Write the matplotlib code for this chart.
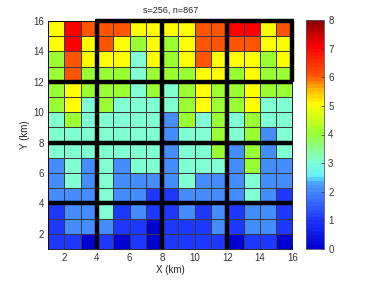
import numpy as np
import matplotlib
matplotlib.use("Agg")
import matplotlib.pyplot as plt
from matplotlib.colors import LinearSegmentedColormap, ListedColormap

plt.rcParams['font.family'] = ['Liberation Sans', 'DejaVu Sans']

# grid node coordinates (km)
x_nodes = np.arange(1, 17)
y_nodes = np.arange(1, 17)

# cell values, rows from bottom (y=1-2) to top (y=15-16)
row_01 = [1, 1, 0, 1, 0, 1, 0, 1, 1, 1, 1, 0, 1, 1, 0]
row_02 = [1, 2, 2, 2, 1, 1, 0, 1, 1, 1, 2, 1, 2, 2, 1]
row_03 = [1, 2, 2, 3, 1, 2, 1, 1, 2, 1, 2, 1, 2, 2, 1]
row_04 = [2, 2, 2, 3, 2, 2, 1, 1, 2, 2, 2, 2, 3, 2, 1]
row_05 = [2, 3, 2, 3, 2, 2, 2, 2, 3, 2, 2, 2, 3, 2, 2]
row_06 = [2, 3, 2, 3, 2, 3, 3, 2, 3, 3, 3, 2, 4, 2, 2]
row_07 = [3, 3, 3, 3, 3, 3, 3, 2, 3, 3, 4, 2, 4, 2, 3]
row_08 = [3, 3, 3, 3, 3, 3, 3, 2, 3, 3, 4, 3, 4, 2, 3]
row_09 = [3, 4, 3, 3, 3, 3, 3, 2, 4, 3, 4, 3, 4, 3, 3]
row_10 = [4, 5, 3, 4, 3, 3, 3, 3, 4, 5, 4, 4, 5, 3, 3]
row_11 = [4, 5, 4, 4, 4, 3, 4, 3, 4, 5, 4, 4, 5, 4, 4]
row_12 = [4, 6, 4, 4, 4, 3, 4, 4, 4, 5, 5, 4, 5, 4, 4]
row_13 = [4, 6, 5, 5, 5, 3, 5, 4, 5, 6, 5, 5, 5, 4, 5]
row_14 = [5, 7, 5, 6, 5, 4, 5, 4, 5, 6, 6, 6, 6, 5, 5]
row_15 = [5, 7, 6, 6, 6, 5, 5, 5, 5, 6, 6, 7, 7, 5, 6]

Z = np.array([row_01, row_02, row_03, row_04, row_05, row_06, row_07, row_08,
              row_09, row_10, row_11, row_12, row_13, row_14, row_15], dtype=float)

x_ticks = [2, 4, 6, 8, 10, 12, 14, 16]
y_ticks = [2, 4, 6, 8, 10, 12, 14, 16]
cb_ticks = [0, 1, 2, 3, 4, 5, 6, 7, 8]
title_text = "s=256, n=867"

# colormap resembling the reference
anchors = [
    (0.0, (0.00, 0.00, 0.82)),
    (1.0, (0.12, 0.22, 1.00)),
    (2.0, (0.27, 0.55, 1.00)),
    (2.3, (0.30, 0.66, 1.00)),
    (2.45, (0.40, 0.93, 1.00)),
    (3.0, (0.50, 1.00, 0.83)),
    (4.0, (0.60, 1.00, 0.20)),
    (5.0, (1.00, 1.00, 0.00)),
    (5.5, (1.00, 0.72, 0.00)),
    (6.0, (1.00, 0.33, 0.00)),
    (7.0, (1.00, 0.00, 0.00)),
    (8.0, (0.50, 0.00, 0.00)),
]
base = LinearSegmentedColormap.from_list("ref", [(v / 8.0, c) for v, c in anchors], N=1024)
cmap = ListedColormap(base(np.arange(64) / 64.0))

W, H = 374, 281
fig = plt.figure(figsize=(W / 100, H / 100), dpi=100)
ax = fig.add_axes([48 / W, 1 - 249 / H, (292.5 - 48) / W, (249 - 21) / H])
cax = fig.add_axes([306 / W, 1 - 249 / H, 18 / W, (249 - 20) / H])

mesh = ax.pcolormesh(x_nodes, y_nodes, Z, cmap=cmap, vmin=0, vmax=8,
                     edgecolors=(0.22, 0.22, 0.22), linewidth=0.7)

# thick block boundaries
lw = 3.2
for v in (4, 8, 12):
    ax.plot([v, v], [1, 16], color='black', lw=lw, solid_capstyle='butt', clip_on=False)
    ax.plot([1, 16], [v, v], color='black', lw=lw, solid_capstyle='butt', clip_on=False)
ax.plot([4 - 0.1, 16 + 0.1], [16, 16], color='black', lw=lw, solid_capstyle='butt', clip_on=False)
ax.plot([16, 16], [12, 16], color='black', lw=lw, solid_capstyle='butt', clip_on=False)

ax.set_xlim(1, 16)
ax.set_ylim(1, 16)
ax.set_xticks(x_ticks)
ax.set_yticks(y_ticks)
ax.tick_params(direction='in', length=3, width=0.5, labelsize=7, colors='#333333',
               top=True, right=True, pad=3)
for s in ax.spines.values():
    s.set_linewidth(0.6)
ax.set_xlabel("X (km)", fontsize=7, labelpad=1, color='#222222')
ax.set_ylabel("Y (km)", fontsize=7, labelpad=2, color='#222222')
ax.set_title(title_text, fontsize=6.5, pad=6, color='#222222')

cb = fig.colorbar(mesh, cax=cax, ticks=cb_ticks)
cb.outline.set_edgecolor('#555555')
cb.outline.set_linewidth(0.6)
cax.tick_params(direction='in', length=2.5, width=0.5, labelsize=7, colors='#333333', pad=3)

fig.savefig("out.png", dpi=100)
